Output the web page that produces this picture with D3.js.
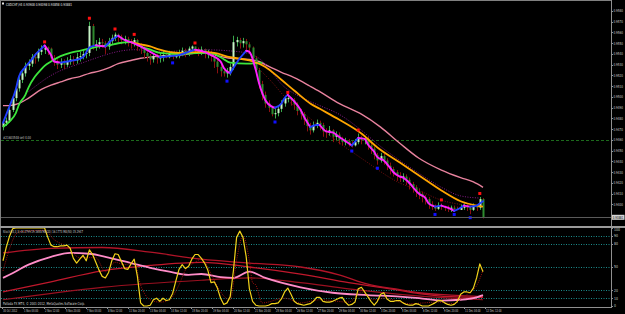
<!DOCTYPE html>
<html>
<head>
<meta charset="utf-8">
<script src="https://cdn.jsdelivr.net/npm/d3@7"></script>
<style>
  html, body { margin: 0; padding: 0; background: #000; }
  svg { display: block; }
</style>
</head>
<body>
<div id="chart"></div>
<script>
// ---- data ----
const titleText = "CADCHF,H4  0.93908 0.94098 0.93858 0.93881";
const orderText = "#21603548 sell 4.00";
const stochText = "Stoch(14,3,3) 44.2799 29.3658  MA(20) 16.1773  MA(50) 15.2947";
const brokerText = "Pallada FX MT4, \u00a9 2001-2012, MetaQuotes Software Corp.";

const opens = [.9472,.9476,.9478,.9488,.9499,.9508,.9516,.9522,.9529,.9531,.9537,.9536,.9542,.9544,.9546,.9545,.9536,.9533,.9530,.9532,
  .9530,.9533,.9535,.9534,.9537,.9538,.9540,.9541,.9566,.9548,.9549,.9551,.9550,.9547,.9552,.9555,.9558,.9556,.9553,.9554,
  .9552,.9550,.9553,.9548,.9545,.9541,.9538,.9535,.9538,.9536,.9537,.9539,.9537,.9540,.9538,.9538,.9541,.9543,.9540,.9545,
  .9547,.9544,.9542,.9544,.9540,.9541,.9538,.9533,.9528,.9524,.9522,.9523,.9528,.9551,.9553,.9550,.9552,.9549,.9546,.9536,
  .9525,.9512,.9502,.9494,.9490,.9484,.9485,.9489,.9494,.9499,.9499,.9497,.9493,.9487,.9484,.9479,.9473,.9469,.9474,.9476,
  .9474,.9468,.9467,.9469,.9463,.9465,.9460,.9458,.9459,.9456,.9455,.9458,.9462,.9460,.9461,.9455,.9452,.9446,.9441,.9445,
  .9441,.9436,.9433,.9430,.9427,.9425,.9426,.9423,.9419,.9416,.9412,.9410,.9407,.9405,.9400,.9398,.9396,.9399,.9398,.9397,
  .9396,.9397,.9396,.9395,.9397,.9398,.9397,.9395,.9398,.9397,.9405];
const highs = [.9478,.9481,.9490,.9502,.9511,.9519,.9526,.9532,.9535,.9540,.9541,.9545,.9548,.9548,.9547,.9546,.9539,.9535,.9536,.9535,
  .9537,.9539,.9538,.9541,.9542,.9544,.9545,.9570,.9568,.9553,.9555,.9554,.9552,.9555,.9558,.9560,.9559,.9558,.9557,.9556,
  .9554,.9555,.9554,.9550,.9547,.9543,.9540,.9541,.9540,.9541,.9543,.9541,.9543,.9542,.9542,.9544,.9546,.9545,.9547,.9548,
  .9547,.9546,.9547,.9545,.9544,.9543,.9539,.9535,.9530,.9527,.9527,.9531,.9557,.9556,.9555,.9555,.9554,.9551,.9547,.9538,
  .9527,.9515,.9505,.9497,.9492,.9489,.9492,.9497,.9501,.9501,.9500,.9499,.9495,.9489,.9486,.9481,.9476,.9477,.9479,.9478,
  .9476,.9471,.9473,.9470,.9468,.9467,.9463,.9462,.9461,.9459,.9461,.9466,.9464,.9464,.9463,.9457,.9454,.9448,.9448,.9447,
  .9443,.9439,.9435,.9432,.9430,.9429,.9428,.9425,.9421,.9418,.9415,.9412,.9409,.9407,.9403,.9400,.9402,.9401,.9399,.9399,
  .9399,.9399,.9398,.9400,.9401,.9400,.9399,.9401,.9400,.9407,.9406];
const lows = [.9469,.9473,.9476,.9486,.9496,.9505,.9513,.9519,.9525,.9528,.9531,.9533,.9539,.9540,.9539,.9533,.9529,.9526,.9527,.9526,
  .9528,.9530,.9530,.9531,.9533,.9535,.9536,.9538,.9544,.9543,.9545,.9546,.9540,.9544,.9549,.9552,.9551,.9549,.9549,.9547,
  .9545,.9547,.9543,.9540,.9536,.9533,.9530,.9532,.9531,.9532,.9533,.9536,.9536,.9535,.9536,.9536,.9538,.9537,.9538,.9542,
  .9540,.9538,.9539,.9536,.9536,.9533,.9527,.9522,.9519,.9519,.9518,.9520,.9525,.9547,.9545,.9546,.9544,.9540,.9532,.9521,
  .9508,.9497,.9490,.9486,.9482,.9480,.9482,.9486,.9491,.9495,.9492,.9488,.9483,.9479,.9474,.9468,.9465,.9467,.9471,.9469,
  .9463,.9462,.9464,.9458,.9460,.9456,.9455,.9455,.9454,.9453,.9454,.9456,.9456,.9456,.9451,.9447,.9442,.9437,.9439,.9437,
  .9432,.9428,.9426,.9422,.9421,.9421,.9418,.9414,.9411,.9407,.9405,.9402,.9400,.9396,.9395,.9394,.9395,.9395,.9394,.9393,
  .9393,.9394,.9395,.9395,.9395,.9394,.9391,.9394,.9394,.9395,.9387];
const closes = [.9476,.9478,.9488,.9499,.9508,.9516,.9522,.9529,.9531,.9537,.9536,.9542,.9544,.9546,.9545,.9536,.9533,.9530,.9532,.9530,
  .9533,.9535,.9534,.9537,.9538,.9540,.9541,.9566,.9548,.9549,.9551,.9550,.9547,.9552,.9555,.9558,.9556,.9553,.9554,.9552,
  .9550,.9553,.9548,.9545,.9541,.9538,.9535,.9538,.9536,.9537,.9539,.9537,.9540,.9538,.9538,.9541,.9543,.9540,.9545,.9547,
  .9544,.9542,.9544,.9540,.9541,.9538,.9533,.9528,.9524,.9522,.9523,.9528,.9551,.9553,.9550,.9552,.9549,.9546,.9536,.9525,
  .9512,.9502,.9494,.9490,.9484,.9485,.9489,.9494,.9499,.9499,.9497,.9493,.9487,.9484,.9479,.9473,.9469,.9474,.9476,.9474,
  .9468,.9467,.9469,.9463,.9465,.9460,.9458,.9459,.9456,.9455,.9458,.9462,.9460,.9461,.9455,.9452,.9446,.9441,.9445,.9441,
  .9436,.9433,.9430,.9427,.9425,.9426,.9423,.9419,.9416,.9412,.9410,.9407,.9405,.9400,.9398,.9396,.9399,.9398,.9397,.9396,
  .9397,.9396,.9395,.9397,.9398,.9397,.9395,.9398,.9397,.9405,.9388];

const fractalUp = [13, 27, 35, 41, 60, 89, 111, 137, 149];
const fractalDown = [53, 70, 85, 109, 117, 135, 141, 146];

// fast line (blue rising / magenta falling): bar index, price
const fastBars = [0,2,4,5,7,9,10,12,13,15,16,18,20,22,25,27,29,32,34,36,38,40,43,46,49,52,55,58,60,63,65,68,69,71,72,74,76,77,79,80,
  82,84,85,87,88,89,91,93,94,96,98,99,101,103,105,107,109,111,113,114,116,117,119,121,122,124,125,127,129,130,132,133,135,137,139,141,143,144,146,148,149,150];
const fastVals = [.9476,.9491,.9507,.9519,.9528,.9535,.9539,.9545,.9548,.9539,.9533,.9532,.9533,.9534,.9537,.9546,.9548,.9547,.9553,.9557,
  .9553,.9551,.9547,.9542,.9537,.9538,.9539,.9542,.9544,.9542,.9539,.9533,.9527,.9522,.9527,.9536,.9543,.9542,.9525,.9513,
  .9497,.9491,.9490,.9494,.9499,.9502,.9496,.9488,.9482,.9472,.9474,.9474,.9468,.9467,.9463,.9459,.9455,.9462,.9461,.9456,
  .9449,.9444,.9441,.9434,.9430,.9426,.9425,.9420,.9413,.9410,.9406,.9401,.9398,.9399,.9397,.9394,.9397,.9399,.9398,.9399,.9401,.9403];

// green and orange moving averages
const greenBars = [0,2,4,5,7,8,10,12,13,15,18,21,24,27,30,33,36,40,43,46,49,55,62,65,68,71,76,81];
const greenVals = [.9472,.9477,.9485,.9493,.9502,.9509,.9519,.9526,.9529,.9533,.9538,.9541,.9543,.9545,.9547,.9548,.9550,.9551,.9547,.9544,
  .9541,.9540,.9541,.9541,.9537,.9532,.9531,.9532];
const orangeBars = [40,43,46,49,55,62,66,71,77,82,87,91,96,99,105,112,117,124,130,137,143,148,150];
const orangeVals = [.9551,.9549,.9547,.9544,.9541,.9542,.9541,.9537,.9534,.9528,.9516,.9506,.9494,.9489,.9479,.9466,.9453,.9439,.9427,.9413,
  .9403,.9399,.9398];

// slow pink average
const pinkBars = [0,2,5,8,12,15,18,21,24,27,30,33,36,40,43,49,55,62,66,71,77,80,84,87,91,96,99,105,112,118,124,130,137,143,147,150];
const pinkVals = [.9492,.9492,.9494,.9499,.9507,.9511,.9514,.9517,.9519,.9522,.9524,.9527,.9531,.9534,.9536,.9538,.9539,.9541,.9539,.9536,
  .9535,.9533,.9527,.9523,.9518,.9510,.9505,.9494,.9484,.9472,.9457,.9443,.9432,.9425,.9421,.9416];

// dotted envelopes
const purpleBars = [8,15,25,41,49,62,74,80,84,87,93,99,105,112,118,124,130,137,143,149];
const purpleVals = [.9505,.9520,.9532,.9544,.9542,.9544,.9542,.9536,.9523,.9512,.9500,.9492,.9484,.9469,.9454,.9441,.9429,.9416,.9408,.9406];
const darkRedBars = [79,84,89,96,103,112,124,130,137,143];
const darkRedVals = [.9529,.9514,.9497,.9480,.9462,.9443,.9420,.9413,.9404,.9400];

const orderPrice = 0.9460;
const bidPrice = 0.93881;

// stochastic %K, one value per bar
const stochK = [58,75,89,99,100,100,100,100,100,100,100,100,100,100,88,78,76,76,77,77,
  78,74,61,55,60,65,58,72,66,56,46,38,36,43,58,67,66,57,48,47,
  54,60,38,4,0,0,1,8,10,6,10,7,8,16,32,47,53,48,51,60,
  66,66,61,55,46,30,31,23,10,2,4,12,45,88,96,88,63,22,6,1,
  0,0,0,1,3,3,4,9,18,23,15,6,3,2,1,2,3,6,11,11,
  6,5,5,6,8,10,11,5,1,2,5,22,24,18,12,6,1,6,15,17,
  9,6,6,7,7,4,2,1,1,3,2,0,0,0,2,4,7,7,4,2,
  1,2,6,15,18,18,17,23,36,54,44];
// %D signal (dotted)
const stochDBars = [0,5,13,16,20,24,29,32,35,38,41,43,46,49,52,55,57,60,62,66,68,71,73,75,77,78,79,81,88,93,99,108,112,116,119,127,136,141,144,147,148,150];
const stochDVals = [45,95,97,85,76,62,62,44,56,53,56,27,8,5,8,27,46,56,60,33,18,8,59,90,58,30,27,4,10,4,8,5,18,8,10,3,5,3,12,21,26,46];
// averages of the oscillator
const oscPinkBars = [0,2,8,15,21,27,33,40,46,52,58,62,68,72,77,82,93,103,114,124,130,137,143,147,150];
const oscPinkVals = [36,40,53,63,68,67,62,55,49,44,40,41,37,36,44,36,24,17,14,12,10,7,8,10,14];
const oscRed1Bars = [0,15,31,46,62,77,93,105,114,124,130,140,150];
const oscRed1Vals = [68,74,75,69,60,55,50,40,28,21,17,14,12];
const oscRed2Bars = [0,15,31,46,62,77,93,108,124,130,140,150];
const oscRed2Vals = [18,31,45,52,56,50,41,30,20,16,12,11];
const oscRed3Bars = [0,31,62,77,93,108,124,140,150];
const oscRed3Vals = [8,24,33,36,30,22,15,10,8];

const stochLevels = [90, 80, 50, 20, 10];
const stochTickLabels = [100, 90, 80, 50, 20, 10, 0];
const priceTicks = [0.9580,0.9570,0.9560,0.9550,0.9540,0.9530,0.9520,0.9510,0.9500,0.9490,
  0.9480,0.9470,0.9460,0.9450,0.9440,0.9430,0.9420,0.9410,0.9400];
const timeLabels = ["30 Oct 2012","1 Nov 04:00","2 Nov 12:00","5 Nov 20:00","7 Nov 04:00","8 Nov 12:00","11 Nov 20:00","13 Nov 04:00",
  "14 Nov 12:00","15 Nov 20:00","19 Nov 04:00","20 Nov 12:00","21 Nov 20:00","25 Nov 04:00","26 Nov 12:00","27 Nov 20:00",
  "29 Nov 04:00","30 Nov 12:00","3 Dec 20:00","5 Dec 04:00","6 Dec 12:00","9 Dec 20:00","11 Dec 04:00","12 Dec 12:00"];

// ---- layout ----
const width = 625, height = 314;
const plotRight = 611;
const mainBottom = 226, subTop = 228, subBottom = 307;
const barStep = 3.2, labelStep = 21;
const font = "DejaVu Sans";

const svg = d3.select("#chart").append("svg").attr("width", width).attr("height", height);
svg.append("rect").attr("width", width).attr("height", height).attr("fill", "#000");

const x = d3.scaleLinear().domain([0, closes.length - 1]).range([3, 3 + barStep * (closes.length - 1)]);
const y = d3.scaleLinear().domain([0.9380, 0.95893]).range([mainBottom, 1]);
const ys = d3.scaleLinear().domain([0, 100]).range([306, 228]);

const defs = svg.append("defs");
defs.append("clipPath").attr("id", "clipMain").append("rect").attr("x", 1).attr("y", 1).attr("width", plotRight - 1).attr("height", mainBottom - 1);
defs.append("clipPath").attr("id", "clipSub").append("rect").attr("x", 1).attr("y", subTop).attr("width", plotRight - 1).attr("height", subBottom - subTop);

const main = svg.append("g").attr("clip-path", "url(#clipMain)");
const sub = svg.append("g").attr("clip-path", "url(#clipSub)");

function drawLine(g, bars, vals, scale, color, w, dash, curve) {
  const line = d3.line().x(d => x(d[0])).y(d => scale(d[1])).curve(curve || d3.curveMonotoneX);
  g.append("path")
    .attr("d", line(bars.map((b, i) => [b, vals[i]])))
    .attr("fill", "none")
    .attr("stroke", color)
    .attr("stroke-width", w)
    .attr("stroke-dasharray", dash || null)
    .attr("stroke-linejoin", "round");
}

// order line
main.append("line").attr("x1", 1).attr("x2", plotRight).attr("y1", Math.round(y(orderPrice)) + 0.5).attr("y2", Math.round(y(orderPrice)) + 0.5)
  .attr("stroke", "#1c6a1c").attr("stroke-dasharray", "3,2");

// slow averages and envelopes
drawLine(main, pinkBars, pinkVals, y, "#e8829e", 1.4);
drawLine(main, purpleBars, purpleVals, y, "#8a1a8a", 1, "1,1.5");
drawLine(main, darkRedBars, darkRedVals, y, "#7a1010", 1, "1,1.5");

// candles
const bars = main.append("g");
closes.forEach((c, i) => {
  const o = opens[i], bull = c >= o;
  bars.append("line")
    .attr("x1", Math.round(x(i)) + 0.5).attr("x2", Math.round(x(i)) + 0.5)
    .attr("y1", y(highs[i])).attr("y2", y(lows[i]))
    .attr("stroke", bull ? "#3aa84a" : "#8c1010").attr("stroke-width", 1);
  const top = y(Math.max(o, c)), bot = y(Math.min(o, c));
  bars.append("rect")
    .attr("x", Math.round(x(i)) - 0.5).attr("width", 2)
    .attr("y", top).attr("height", Math.max(1, bot - top))
    .attr("fill", bull ? "#c6f2c6" : "#2e8a2e");
});

// medium averages
drawLine(main, greenBars, greenVals, y, "#3ce63c", 1.8);
drawLine(main, orangeBars, orangeVals, y, "#ffa500", 1.8);

// fast line, coloured by direction
let run = [[fastBars[0], fastVals[0]]], runUp = fastVals[1] >= fastVals[0];
const fastLine = d3.line().x(d => x(d[0])).y(d => y(d[1])).curve(d3.curveMonotoneX);
function flush() {
  main.append("path").attr("d", fastLine(run)).attr("fill", "none")
    .attr("stroke", runUp ? "#2040ff" : "#ff20ff").attr("stroke-width", 1.9).attr("stroke-linecap", "round");
}
for (let k = 1; k < fastBars.length; k++) {
  const up = fastVals[k] >= fastVals[k - 1];
  if (up !== runUp) { flush(); run = [run[run.length - 1]]; runUp = up; }
  run.push([fastBars[k], fastVals[k]]);
}
flush();

// fractals
fractalUp.forEach(i => main.append("rect").attr("x", x(i) - 1.5).attr("y", y(highs[i]) - 5).attr("width", 3).attr("height", 3).attr("fill", "#ff1010"));
fractalDown.forEach(i => main.append("rect").attr("x", x(i) - 1.5).attr("y", y(lows[i]) + 2).attr("width", 3).attr("height", 3).attr("fill", "#1010ff"));

// bid line
svg.append("line").attr("x1", 1).attr("x2", plotRight).attr("y1", Math.round(y(bidPrice)) + 0.5).attr("y2", Math.round(y(bidPrice)) + 0.5)
  .attr("stroke", "#5a5a5a");

// ---- stochastic window ----
stochLevels.forEach(v => {
  sub.append("line").attr("x1", 1).attr("x2", plotRight).attr("y1", Math.round(ys(v)) + 0.5).attr("y2", Math.round(ys(v)) + 0.5)
    .attr("stroke", "#1b8c8c").attr("stroke-dasharray", "1,1.5");
});
drawLine(sub, oscRed3Bars, oscRed3Vals, ys, "#9a1020", 1.2);
drawLine(sub, oscRed2Bars, oscRed2Vals, ys, "#c0182c", 1.3);
drawLine(sub, oscRed1Bars, oscRed1Vals, ys, "#b01428", 1.3);
drawLine(sub, oscPinkBars, oscPinkVals, ys, "#ff8cc8", 1.8);
drawLine(sub, stochDBars, stochDVals, ys, "#a01010", 1, "1,1.2");
drawLine(sub, d3.range(stochK.length), stochK, ys, "#f2d21a", 1.2, null, d3.curveLinear);

// ---- frame ----
svg.append("line").attr("x1", 0.5).attr("x2", 0.5).attr("y1", 0).attr("y2", subBottom).attr("stroke", "#808080");
svg.append("line").attr("x1", 0).attr("x2", plotRight).attr("y1", 0.5).attr("y2", 0.5).attr("stroke", "#808080");
svg.append("line").attr("x1", plotRight + 0.5).attr("x2", plotRight + 0.5).attr("y1", 0).attr("y2", subBottom + 1).attr("stroke", "#909090");
svg.append("rect").attr("x", 0).attr("y", mainBottom).attr("width", width).attr("height", 2).attr("fill", "#9a9a9a");
svg.append("line").attr("x1", 0).attr("x2", plotRight + 1).attr("y1", subBottom + 0.5).attr("y2", subBottom + 0.5).attr("stroke", "#909090");

function txt(str, tx, ty, len, color, anchor) {
  svg.append("text").attr("x", tx).attr("y", ty).text(str)
    .attr("font-family", font).attr("font-size", 4).attr("fill", color || "#c8c8c8")
    .attr("text-anchor", anchor || "start")
    .attr("textLength", len).attr("lengthAdjust", "spacingAndGlyphs");
}

// title and labels
svg.append("rect").attr("x", 2).attr("y", 2.5).attr("width", 2).attr("height", 2).attr("fill", "#e0e0e0");
txt(titleText, 6, 5.5, 66, "#e6e6e6");
txt(orderText, 3, 138.5, 28, "#c0c0c0");
txt(stochText, 3, 232.5, 80, "#c8c8c8");
txt(brokerText, 3, 305, 82, "#d8d8d8");

// price axis
priceTicks.forEach(p => {
  const py = y(p);
  svg.append("line").attr("x1", plotRight).attr("x2", plotRight + 2).attr("y1", Math.round(py) + 0.5).attr("y2", Math.round(py) + 0.5).attr("stroke", "#909090");
  txt(d3.format(".4f")(p), 613.5, py + 1.4, 9.5);
});
// bid label
svg.append("rect").attr("x", plotRight + 1).attr("y", y(bidPrice) - 2.5).attr("width", 12.5).attr("height", 5).attr("fill", "#d6d6d6");
txt(d3.format(".5f")(bidPrice), 612.8, y(bidPrice) + 1.5, 10.5, "#000");

// stochastic axis
stochTickLabels.forEach(v => {
  svg.append("line").attr("x1", plotRight).attr("x2", plotRight + 2).attr("y1", Math.round(ys(v)) + 0.5).attr("y2", Math.round(ys(v)) + 0.5).attr("stroke", "#909090");
  txt(String(v), 614, ys(v) + (v === 100 ? 3.2 : 1.4), String(v).length * 2);
});

// time axis
const barsPerLabel = labelStep / barStep;
timeLabels.forEach((lab, j) => {
  const tx = x(j * barsPerLabel) - 1;
  svg.append("line").attr("x1", Math.round(tx) + 0.5).attr("x2", Math.round(tx) + 0.5).attr("y1", subBottom).attr("y2", subBottom + 2).attr("stroke", "#909090");
  txt(lab, tx + 1, 312, lab.length * 1.3);
});
</script>
</body>
</html>
